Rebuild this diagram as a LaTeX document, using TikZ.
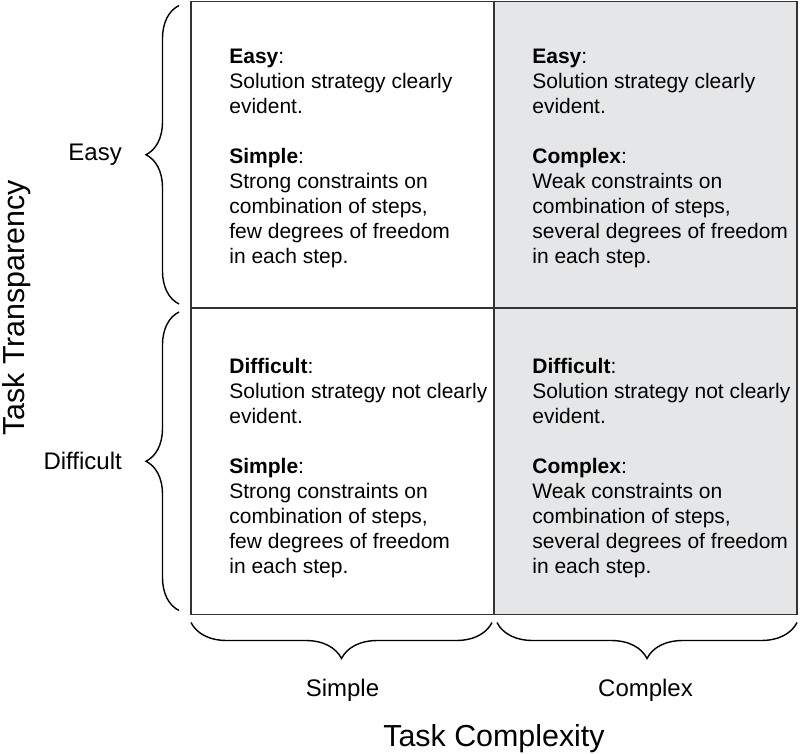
\documentclass[tikz,border=0pt]{standalone}
\usepackage{fontspec}
\setmainfont{Liberation Sans}
\usetikzlibrary{positioning, decorations.pathreplacing}
\definecolor{cellgray}{RGB}{229,230,232}

\begin{document}
\begin{tikzpicture}[
  cell/.style={
    rectangle, draw=black!80, fill=#1, line width=1.1pt,
    minimum width=6.06cm, minimum height=6.13cm,
    inner sep=0pt, outer sep=0pt
  },
  celltext/.style={
    align=left, inner sep=0pt,
    font=\fontsize{11.95}{14.2}\selectfont
  },
  curly/.style={decorate, decoration={brace, amplitude=#1}, line width=0.8pt},
  axlabel/.style={font=\fontsize{13.65}{16}\selectfont},
  axtitle/.style={font=\fontsize{17.3}{20}\selectfont}
]
\useasboundingbox (0,0) rectangle (16,15.06);

% Matrix cells (rows = transparency, columns = complexity)
\node[cell=white] (c11) at (6.85, 11.965) {};
\node[cell=white, below=0pt of c11] (c21) {};
\node[cell=cellgray, right=0pt of c11] (c12) {};
\node[cell=cellgray, right=0pt of c21] (c22) {};

% Cell texts
\node[celltext, anchor=west] (t11) at ([xshift=0.76cm, yshift=-0.08cm]c11.west) {\textbf{Easy}:\\
  Solution strategy clearly\\ evident.\\[14.2pt]
  \textbf{Simple}:\\ Strong constraints on\\ combination of steps,\\
  few degrees of freedom\\ in each step.};
\node[celltext, anchor=west] (t12) at ([xshift=0.76cm, yshift=-0.08cm]c12.west) {\textbf{Easy}:\\
  Solution strategy clearly\\ evident.\\[14.2pt]
  \textbf{Complex}:\\ Weak constraints on\\ combination of steps,\\
  several degrees of freedom\\ in each step.};
\node[celltext, anchor=west] (t21) at ([xshift=0.76cm, yshift=-0.14cm]c21.west) {\textbf{Difficult}:\\
  Solution strategy not clearly\\ evident.\\[14.2pt]
  \textbf{Simple}:\\ Strong constraints on\\ combination of steps,\\
  few degrees of freedom\\ in each step.};
\node[celltext, anchor=west] (t22) at ([xshift=0.76cm, yshift=-0.14cm]c22.west) {\textbf{Difficult}:\\
  Solution strategy not clearly\\ evident.\\[14.2pt]
  \textbf{Complex}:\\ Weak constraints on\\ combination of steps,\\
  several degrees of freedom\\ in each step.};

% Braces
\draw[curly=0.66cm] ([xshift=-0.24cm, yshift=0.08cm]c11.south west)
  -- ([xshift=-0.24cm, yshift=-0.08cm]c11.north west);
\draw[curly=0.66cm] ([xshift=-0.24cm, yshift=0.08cm]c21.south west)
  -- ([xshift=-0.24cm, yshift=-0.08cm]c21.north west);
\draw[curly=0.72cm] ([xshift=-0.04cm, yshift=-0.16cm]c21.south east)
  -- ([xshift=0.0cm, yshift=-0.16cm]c21.south west);
\draw[curly=0.72cm] ([xshift=0.0cm, yshift=-0.16cm]c22.south east)
  -- ([xshift=0.06cm, yshift=-0.16cm]c22.south west);

% Axis labels
\node[axlabel, anchor=east] (easy) at ([xshift=-1.26cm]c11.west) {Easy};
\node[axlabel, anchor=east] (difficult) at ([xshift=-1.26cm]c21.west) {Difficult};
\node[axlabel] (simple) at ([yshift=-1.51cm]c21.south) {Simple};
\node[axlabel] (complex) at ([yshift=-1.51cm]c22.south) {Complex};
\node[axtitle] (complexity) at ([yshift=-2.49cm]c21.south east) {Task Complexity};
\node[axtitle, rotate=90] (transparency) at ([xshift=-3.48cm]c11.south west) {Task Transparency};

\end{tikzpicture}
\end{document}
